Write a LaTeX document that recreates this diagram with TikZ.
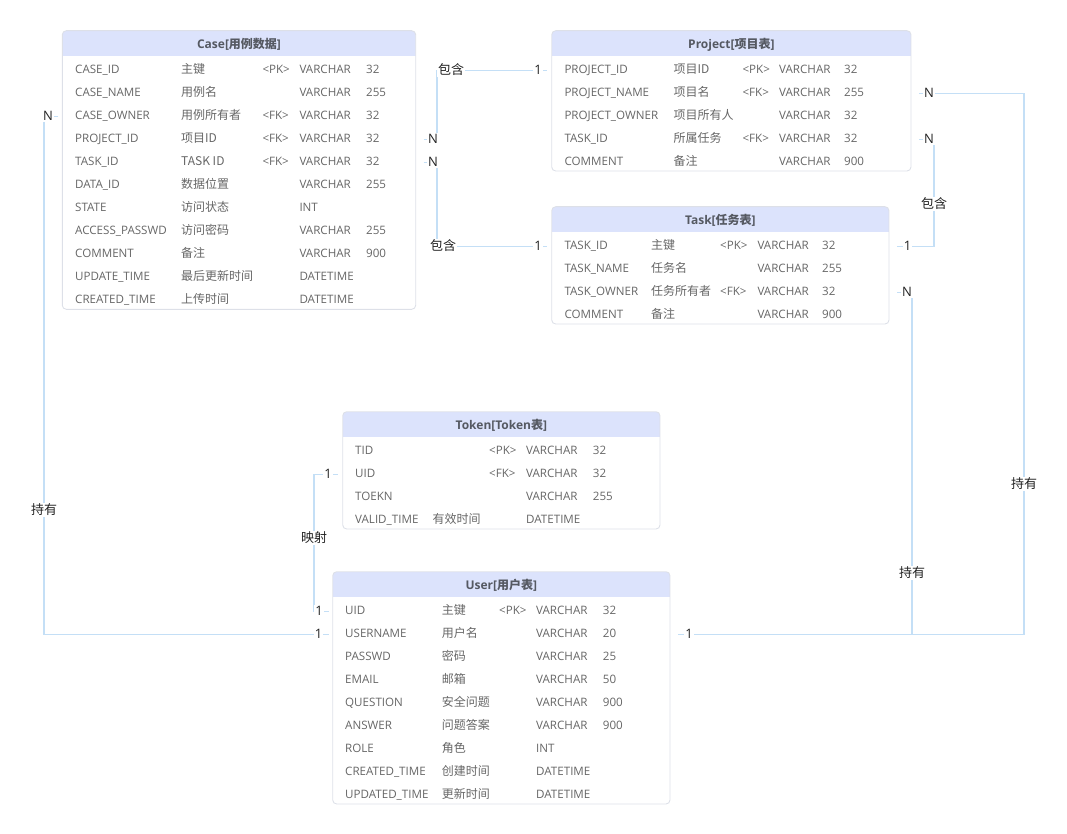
\documentclass[tikz,border=0pt]{standalone}
\usepackage{fontspec}
\setmainfont{Open Sans}
\newfontfamily\cjk{Noto Sans CJK SC}
\usetikzlibrary{calc}
\definecolor{hdrc}{HTML}{DCE3FC}
\definecolor{bordc}{HTML}{DDE0E8}
\definecolor{rowc}{HTML}{666666}
\definecolor{ttlc}{HTML}{555962}
\definecolor{linec}{HTML}{C4DFF6}
\definecolor{lblc}{HTML}{222222}
\newcommand\cellfont{\fontsize{11.6}{14}\selectfont}
\newcommand\cjkcellfont{\cjk\fontsize{12}{14}\selectfont}
\newcommand\erbox[6]{%
  \begin{scope}
    \clip[rounded corners=4pt] (#2,#3) rectangle (#4,#5);
    \fill[hdrc] (#2,#3) rectangle (#4,#3+25);
  \end{scope}
  \node[erb, minimum width={#4-#2}, minimum height={#5-#3}, anchor=north west] (#1) at (#2,#3) {};
  \node[ttl] (#1-title) at ({(#2+#4)/2},#3+14) {#6};
}
\newcommand\rw[8]{%
  \node[cell] (#1-r#2) at (\cA,#3) {#4};
  \ifx&#5&\else\node[cell,font=\cjkcellfont] (#1-r#2-c) at (\cB,#3) {#5};\fi
  \ifx&#6&\else\node[cell] (#1-r#2-k) at (\cC,#3) {#6};\fi
  \ifx&#7&\else\node[cell] (#1-r#2-t) at (\cD,#3) {#7};\fi
  \ifx&#8&\else\node[cell] (#1-r#2-l) at (\cE,#3) {#8};\fi
}
\begin{document}
\begin{tikzpicture}[x=1pt,y=-1pt,
  erb/.style={draw=bordc, line width=0.9pt, rounded corners=4pt, inner sep=0pt, outer sep=0pt},
  ttl/.style={inner sep=0pt, font=\fontsize{12}{14}\selectfont\bfseries, text=ttlc},
  cell/.style={anchor=mid west, inner sep=0pt, font=\cellfont, text=rowc},
  lbl/.style={fill=white, inner sep=1.2pt, font=\fontsize{13}{15}\selectfont, text=lblc},
  conn/.style={draw=linec, line width=1.9pt}]
\useasboundingbox (0,0) rectangle (1067,834);

% ---------- Case ----------
\erbox{case}{62.3}{30.7}{415.7}{309.3}{Case[{\cjk 用例数据}]}
\def\cA{75}\def\cB{181}\def\cC{262.3}\def\cD{299.3}\def\cE{366}
\rw{case}{1}{70.5}{CASE\_ID}{主键}{<PK>}{VARCHAR}{32}
\rw{case}{2}{93.5}{CASE\_NAME}{用例名}{}{VARCHAR}{255}
\rw{case}{3}{116.5}{CASE\_OWNER}{用例所有者}{<FK>}{VARCHAR}{32}
\rw{case}{4}{139.5}{PROJECT\_ID}{项目ID}{<FK>}{VARCHAR}{32}
\rw{case}{5}{162.5}{TASK\_ID}{TASK ID}{<FK>}{VARCHAR}{32}
\rw{case}{6}{185.5}{DATA\_ID}{数据位置}{}{VARCHAR}{255}
\rw{case}{7}{208.5}{STATE}{访问状态}{}{INT}{}
\rw{case}{8}{231.5}{ACCESS\_PASSWD}{访问密码}{}{VARCHAR}{255}
\rw{case}{9}{254.5}{COMMENT}{备注}{}{VARCHAR}{900}
\rw{case}{10}{277.5}{UPDATE\_TIME}{最后更新时间}{}{DATETIME}{}
\rw{case}{11}{300.5}{CREATED\_TIME}{上传时间}{}{DATETIME}{}

% ---------- Project ----------
\erbox{project}{551.7}{30.7}{911}{171}{Project[{\cjk 项目表}]}
\def\cA{564.3}\def\cB{673.3}\def\cC{742.3}\def\cD{779}\def\cE{844}
\rw{project}{1}{70.5}{PROJECT\_ID}{项目ID}{<PK>}{VARCHAR}{32}
\rw{project}{2}{93.5}{PROJECT\_NAME}{项目名}{<FK>}{VARCHAR}{255}
\rw{project}{3}{116.5}{PROJECT\_OWNER}{项目所有人}{}{VARCHAR}{32}
\rw{project}{4}{139.5}{TASK\_ID}{所属任务}{<FK>}{VARCHAR}{32}
\rw{project}{5}{162.5}{COMMENT}{备注}{}{VARCHAR}{900}

% ---------- Task ----------
\erbox{task}{551.7}{206.7}{889}{324}{Task[{\cjk 任务表}]}
\def\cA{564.3}\def\cB{651}\def\cC{720}\def\cD{757.3}\def\cE{822}
\rw{task}{1}{246.5}{TASK\_ID}{主键}{<PK>}{VARCHAR}{32}
\rw{task}{2}{269.5}{TASK\_NAME}{任务名}{}{VARCHAR}{255}
\rw{task}{3}{292.5}{TASK\_OWNER}{任务所有者}{<FK>}{VARCHAR}{32}
\rw{task}{4}{315.5}{COMMENT}{备注}{}{VARCHAR}{900}

% ---------- Token ----------
\erbox{token}{342.7}{411.7}{660}{529}{Token[Token{\cjk 表}]}
\def\cA{355}\def\cB{432.3}\def\cC{489}\def\cD{526}\def\cE{592.7}
\rw{token}{1}{451.5}{TID}{}{<PK>}{VARCHAR}{32}
\rw{token}{2}{474.5}{UID}{}{<FK>}{VARCHAR}{32}
\rw{token}{3}{497.5}{TOEKN}{}{}{VARCHAR}{255}
\rw{token}{4}{520.5}{VALID\_TIME}{有效时间}{}{DATETIME}{}

% ---------- User ----------
\erbox{user}{332.7}{571.7}{670}{804}{User[{\cjk 用户表}]}
\def\cA{345}\def\cB{441.7}\def\cC{499}\def\cD{536}\def\cE{602.7}
\rw{user}{1}{611.5}{UID}{主键}{<PK>}{VARCHAR}{32}
\rw{user}{2}{634.5}{USERNAME}{用户名}{}{VARCHAR}{20}
\rw{user}{3}{657.5}{PASSWD}{密码}{}{VARCHAR}{25}
\rw{user}{4}{680.5}{EMAIL}{邮箱}{}{VARCHAR}{50}
\rw{user}{5}{703.5}{QUESTION}{安全问题}{}{VARCHAR}{900}
\rw{user}{6}{726.5}{ANSWER}{问题答案}{}{VARCHAR}{900}
\rw{user}{7}{749.5}{ROLE}{角色}{}{INT}{}
\rw{user}{8}{772.5}{CREATED\_TIME}{创建时间}{}{DATETIME}{}
\rw{user}{9}{795.5}{UPDATED\_TIME}{更新时间}{}{DATETIME}{}

% ---------- connector end points ----------
\coordinate (caseOwnerW) at ($(case.west |- case-r3.mid west)+(-4,0)$);
\coordinate (caseProjE)  at ($(case.east |- case-r4.mid west)+(8,0)$);
\coordinate (caseTaskE)  at ($(case.east |- case-r5.mid west)+(8,0)$);
\coordinate (projIdW)    at ($(project.west |- project-r1.mid west)+(-5,0)$);
\coordinate (projNameE)  at ($(project.east |- project-r2.mid west)+(8,0)$);
\coordinate (projTaskE)  at ($(project.east |- project-r4.mid west)+(8,0)$);
\coordinate (taskIdW)    at ($(task.west |- task-r1.mid west)+(-5,0)$);
\coordinate (taskIdE)    at ($(task.east |- task-r1.mid west)+(8,0)$);
\coordinate (taskOwnE)   at ($(task.east |- task-r3.mid west)+(8,0)$);
\coordinate (tokUidW)    at ($(token.west |- token-r2.mid west)+(-5,0)$);
\coordinate (userUidW)   at ($(user.west |- user-r1.mid west)+(-4,0)$);
\coordinate (userNameW)  at ($(user.west |- user-r2.mid west)+(-4,0)$);
\coordinate (userNameE)  at ($(user.east |- user-r2.mid west)+(8,0)$);

% ---------- connectors ----------
\draw[conn] (caseOwnerW) -- ++(-14,0) |- (userNameW);
\draw[conn] (caseProjE) -- ++(13.3,0) |- (projIdW);
\draw[conn] (caseTaskE) -- ++(13.3,0) |- (taskIdW);
\draw[conn] (projTaskE) -- ++(15,0) |- (taskIdE);
\draw[conn] (projNameE) -- ++(105,0) |- (userNameE);
\draw[conn] (taskOwnE) -- ++(15,0) |- (userNameE);
\draw[conn] (tokUidW) -- ++(-24,0) |- (userUidW);

% ---------- labels ----------
\node[lbl] (l-case-n)   at (48,116) {N};
\node[lbl] (l-case-1)   at (318.5,634) {1};
\node[lbl] (l-case-own) at (44,510) {\cjk 持有};

\node[lbl] (l-cp-n)  at (433,139) {N};
\node[lbl] (l-cp-r)  at (451,70) {\cjk 包含};
\node[lbl] (l-cp-1)  at (538,70) {1};

\node[lbl] (l-ct-n)  at (433,162) {N};
\node[lbl] (l-ct-r)  at (443,246) {\cjk 包含};
\node[lbl] (l-ct-1)  at (538,246) {1};

\node[lbl] (l-pu-n)  at (929,93) {N};
\node[lbl] (l-pu-r)  at (1024,484) {\cjk 持有};
\node[lbl] (l-pu-1)  at (689,634) {1};

\node[lbl] (l-pt-n)  at (929,139) {N};
\node[lbl] (l-pt-r)  at (934,204) {\cjk 包含};
\node[lbl] (l-pt-1)  at (907.5,246) {1};

\node[lbl] (l-tu-n)  at (907,292) {N};
\node[lbl] (l-tu-r)  at (912,573) {\cjk 持有};

\node[lbl] (l-ku-1)  at (328,474) {1};
\node[lbl] (l-ku-r)  at (314,538) {\cjk 映射};
\node[lbl] (l-ku-1b) at (319,611) {1};
\end{tikzpicture}
\end{document}
